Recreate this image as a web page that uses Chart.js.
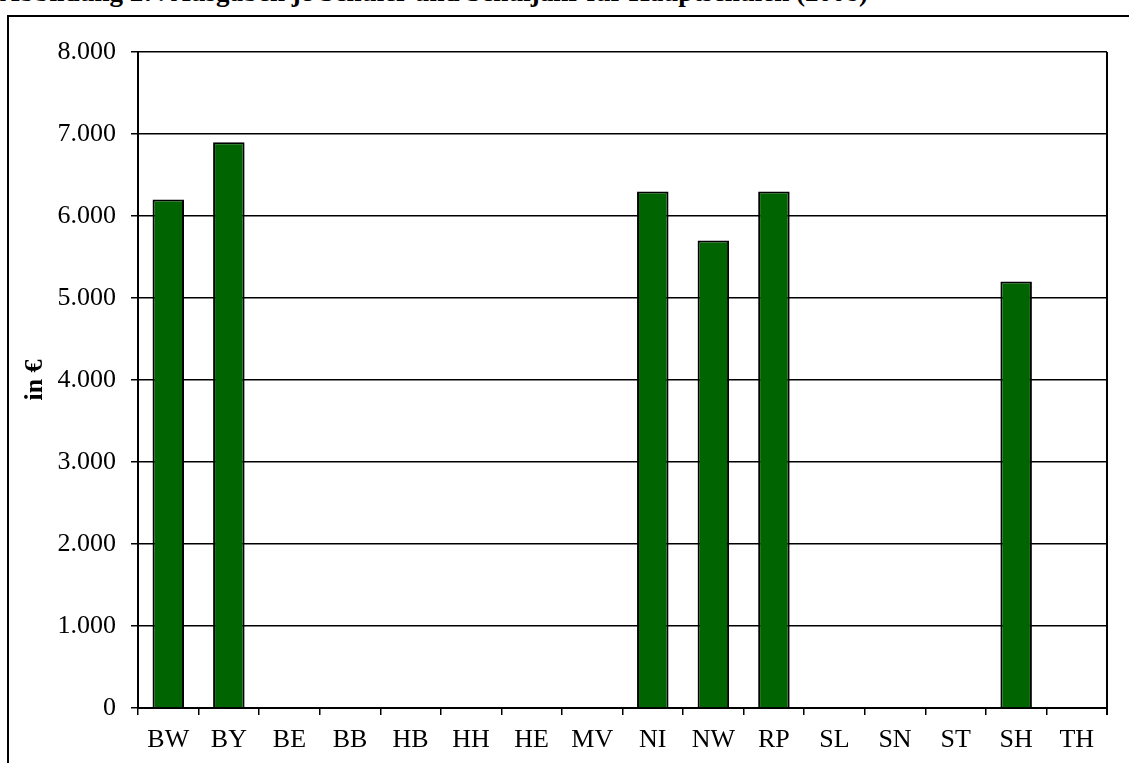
<!DOCTYPE html>
<html>
<head>
<meta charset="utf-8">
<script src="https://cdn.jsdelivr.net/npm/chart.js@4/dist/chart.umd.min.js"></script>
<style>
  html, body { margin: 0; padding: 0; background: #fff; overflow: hidden; }
  #wrap { position: relative; width: 1129px; height: 763px; overflow: hidden; }
  #title { position: absolute; left: 0; top: -21px; font-family: "Liberation Serif", "Times New Roman", serif; font-weight: bold; font-size: 27px; line-height: 27px; white-space: nowrap; color: #000; }
  #frame { position: absolute; left: 7px; top: 15px; width: 1300px; height: 900px; border: 2px solid #000; }
  #c { position: absolute; left: 0; top: 0; }
</style>
</head>
<body>
<div id="wrap">
  <div id="title">Abbildung 27: Ausgaben je Schüler und Schuljahr für Hauptschulen (2008)</div>
  <div id="frame"></div>
  <canvas id="c" width="1129" height="763"></canvas>
</div>
<script>
const categories = ['BW','BY','BE','BB','HB','HH','HE','MV','NI','NW','RP','SL','SN','ST','SH','TH'];
const values = [6200, 6900, null, null, null, null, null, null, 6300, 5700, 6300, null, null, null, 5200, null];
const yTickLabels = ['0','1.000','2.000','3.000','4.000','5.000','6.000','7.000','8.000'];
const yAxisTitle = 'in €';

const rightBorder = {
  id: 'rightBorder',
  afterDraw(chart) {
    const { ctx, chartArea } = chart;
    ctx.save();
    ctx.strokeStyle = '#000';
    ctx.lineWidth = 2;
    ctx.beginPath();
    ctx.moveTo(chartArea.right, chartArea.top);
    ctx.lineTo(chartArea.right, chartArea.bottom + 7);
    ctx.stroke();
    ctx.restore();
  }
};

new Chart(document.getElementById('c'), {
  type: 'bar',
  data: {
    labels: categories,
    datasets: [{
      data: values,
      backgroundColor: '#006400',
      borderColor: '#000',
      borderWidth: 2,
      barPercentage: 0.52,
      categoryPercentage: 1.0
    }]
  },
  options: {
    responsive: false,
    animation: false,
    devicePixelRatio: 1,
    layout: { padding: { left: 20, top: 52, right: 22, bottom: 0 } },
    plugins: { legend: { display: false }, tooltip: { enabled: false }, title: { display: false } },
    scales: {
      x: {
        grid: { offset: true, drawOnChartArea: false, color: '#000', tickColor: '#000', tickLength: 7, lineWidth: 1.5 },
        border: { color: '#000', width: 2 },
        ticks: { color: '#000', font: { family: 'Liberation Serif', size: 26 }, padding: 10, maxRotation: 0, autoSkip: false },
        afterFit(scale) { scale.height = 55; }
      },
      y: {
        min: 0, max: 8000,
        grid: { color: '#000', lineWidth: 1.5, tickLength: 7, tickColor: '#000' },
        border: { color: '#000', width: 2 },
        ticks: {
          stepSize: 1000,
          color: '#000',
          font: { family: 'Liberation Serif', size: 26 },
          padding: 15,
          callback: (v, i) => yTickLabels[i]
        },
        title: { display: true, text: yAxisTitle, color: '#000', font: { family: 'Liberation Serif', size: 26, weight: 'bold' }, padding: 0 },
        afterFit(scale) { scale.width = 118; }
      }
    }
  },
  plugins: [rightBorder]
});
</script>
</body>
</html>
